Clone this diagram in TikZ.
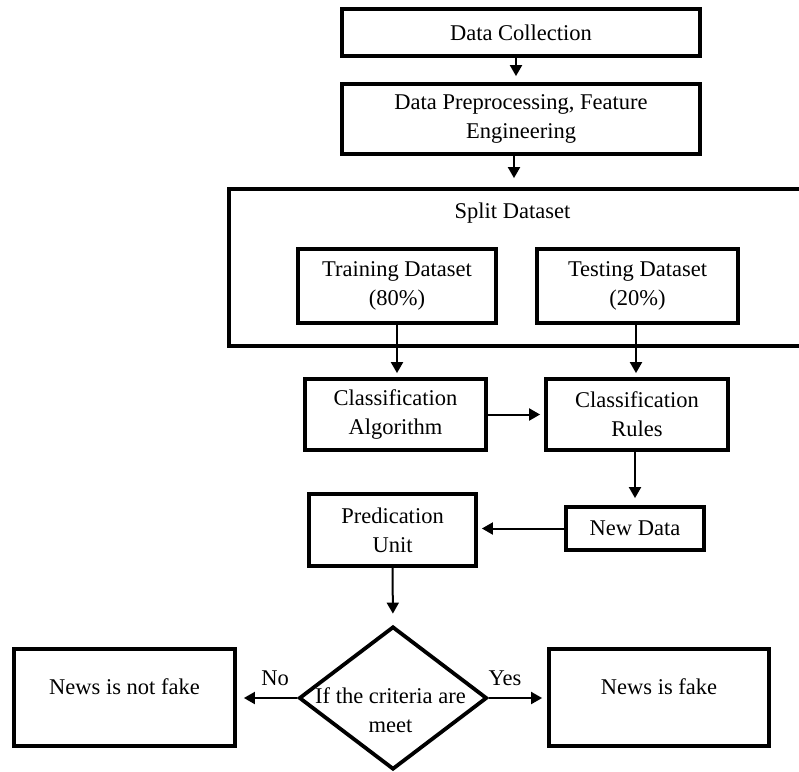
\documentclass[tikz,border=0pt]{standalone}
\usepackage{fontspec}
\setmainfont{Liberation Serif}
\usetikzlibrary{arrows.meta,shapes.geometric}
\begin{document}
\begin{tikzpicture}[x=1pt,y=-1pt,
  box/.style={draw, line width=3.8pt, rectangle, inner sep=0pt, align=center, font=\fontsize{22.5}{29}\selectfont},
  arr/.style={-{Triangle[width=12pt,length=11pt]}, line width=2pt},
  lbl/.style={font=\fontsize{22.5}{29}\selectfont, inner sep=0pt, align=center}]
\clip (0,0) rectangle (799,771);
% boxes
\node[box, minimum width=358pt, minimum height=47pt] (dc) at (521,32.5) {Data Collection};
\node[box, minimum width=358pt, minimum height=70pt] (dp) at (521,119) {Data Preprocessing, Feature\\Engineering};
\node[box, minimum width=611pt, minimum height=157pt] (split) at (534.5,267.5) {};
\node[lbl, anchor=base] (splittxt) at (512.5,218) {Split Dataset};
\node[box, minimum width=198pt, minimum height=74pt] (train) at (397,286) {Training Dataset\\(80\%)};
\node[box, minimum width=201pt, minimum height=74pt] (test) at (637.5,286) {Testing Dataset\\(20\%)};
\node[box, minimum width=181pt, minimum height=71pt] (alg) at (395.5,414.5) {Classification\\Algorithm};
\node[box, minimum width=182pt, minimum height=71pt] (rules) at (637,414.5) {Classification\\Rules};
\node[box, minimum width=138pt, minimum height=43pt] (newd) at (635,528.5) {New Data};
\node[box, minimum width=167pt, minimum height=72pt] (pred) at (392.5,530) {Predication\\Unit};
\node[draw, diamond, line width=3.8pt, minimum width=188pt, minimum height=143pt, inner sep=0pt] (dec) at (393,698) {};
\node[lbl] (dectxt) at (390.5,710) {If the criteria are\\meet};
\node[box, minimum width=221pt, minimum height=97pt] (notfake) at (124.5,697.5) {\raisebox{11pt}[\height][\depth]{News is not fake}};
\node[box, minimum width=220pt, minimum height=97pt] (fake) at (659,697.5) {\raisebox{11pt}[\height][\depth]{News is fake}};
\node[lbl, anchor=base] (no) at (275,685) {No};
\node[lbl, anchor=base] (yes) at (505,685) {Yes};
% connectors
\draw[arr, shorten >=6pt] ([xshift=-5pt]dc.south) -- ([xshift=-5pt]dp.north);
\draw[arr, shorten >=9pt] ([xshift=-7pt]dp.south) -- ([xshift=-7pt]dp.south |- split.north);
\draw[arr, shorten >=4pt] (train.south) -- (train.south |- alg.north);
\draw[arr, shorten >=4pt] ([xshift=-1.5pt]test.south) -- ([xshift=-1.5pt]test.south |- rules.north);
\draw[arr, shorten >=4pt] (alg.east) -- (rules.west);
\draw[arr, shorten >=7pt] (newd.north |- rules.south) -- (newd.north);
\draw[arr, shorten >=4pt] (newd.west) -- (newd.west -| pred.east);
\draw[arr, shorten >=11pt] (pred.south) -- (dec.north);
\draw[arr, shorten >=7pt] (dec.west) -- (dec.west -| notfake.east);
\draw[arr, shorten >=5pt] (dec.east) -- (dec.east -| fake.west);
\end{tikzpicture}
\end{document}
